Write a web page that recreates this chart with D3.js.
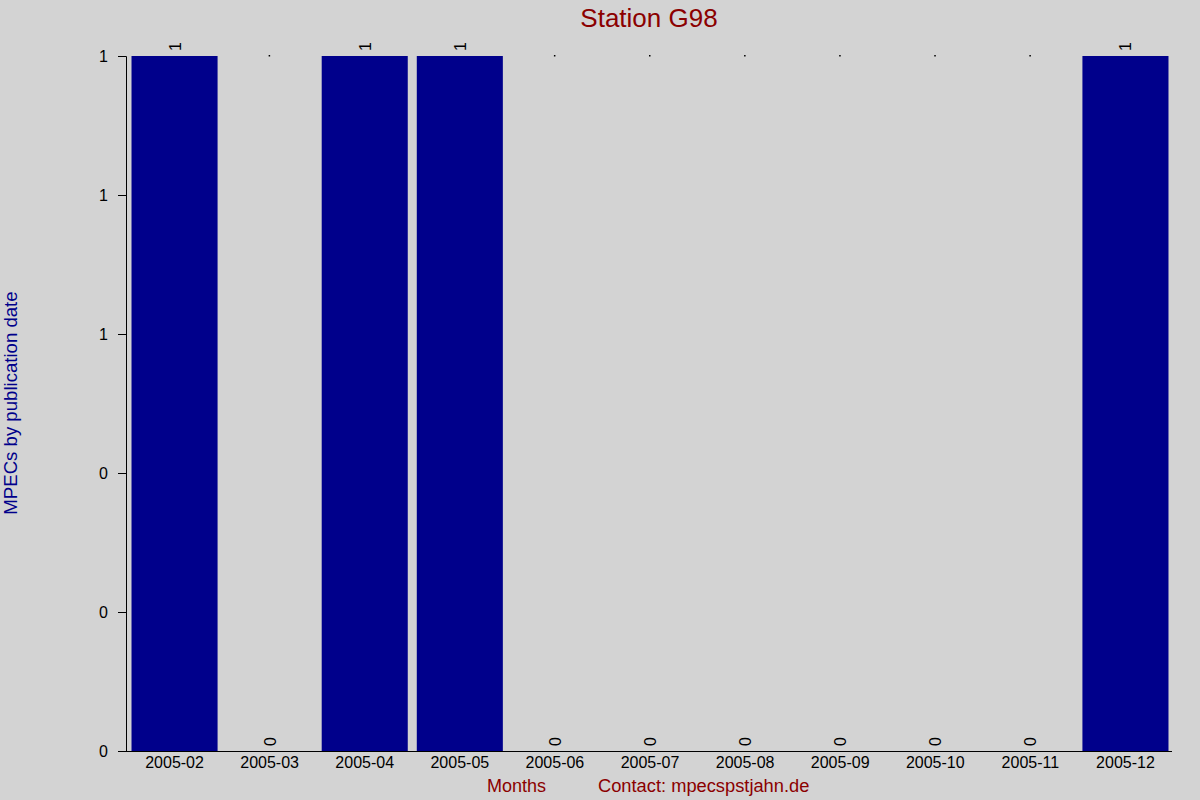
<!DOCTYPE html>
<html><head><meta charset="utf-8">
<script src="https://cdn.jsdelivr.net/npm/d3@7"></script>
<style>body{margin:0;background:#d3d3d3;}svg{display:block;font-family:"Liberation Sans",Arial,sans-serif;}</style>
</head><body>
<svg id="c" width="1200" height="800"></svg>
<script>
const months = ["2005-02","2005-03","2005-04","2005-05","2005-06","2005-07","2005-08","2005-09","2005-10","2005-11","2005-12"];
const counts = [1,0,1,1,0,0,0,0,0,0,1];
const yTicks = [0,0.2,0.4,0.6,0.8,1];
const titleText = "Station G98";
const yLabel = "MPECs by publication date";
const xLabel = "Months";
const contactText = "Contact: mpecspstjahn.de";

const svg = d3.select("#c");
svg.append("rect").attr("width",1200).attr("height",800).attr("fill","#d3d3d3");
const L=126,R=1172,T=56,B=751;
const x = d3.scaleBand().domain(months).range([L+1,R+1]).paddingInner(0.095).paddingOuter(0.0475);
const y = d3.scaleLinear().domain([0,1]).range([B,T]);

svg.append("g").selectAll("rect").data(months).join("rect")
  .attr("x",d=>x(d)).attr("width",x.bandwidth())
  .attr("y",(d,i)=>y(counts[i])).attr("height",(d,i)=>B-y(counts[i]))
  .attr("fill","#00008b");

svg.append("g").selectAll("rect").data(months.filter((d,i)=>counts[i]===0)).join("rect")
  .attr("x",d=>x(d)+x.bandwidth()/2-1).attr("y",y(1)-1).attr("width",1.5).attr("height",1.5).attr("fill","#000");

svg.append("g").selectAll("text").data(months).join("text")
  .attr("transform",(d,i)=>`translate(${x(d)+x.bandwidth()/2+6},${y(counts[i])-5}) rotate(-90)`)
  .style("font-size","16px").attr("fill","#000").attr("text-anchor","start")
  .text((d,i)=>counts[i]);

const ya = svg.append("g").attr("transform",`translate(${L},0)`)
  .call(d3.axisLeft(y).tickValues(yTicks).tickFormat(d3.format(".0f")).tickSizeOuter(0).tickSize(8).tickPadding(10));
ya.attr("font-size",null).attr("font-family",null);
ya.selectAll("text").style("font-size","16px").attr("fill","#000");
ya.selectAll("line,path").attr("stroke","#000");

const xa = svg.append("g").attr("transform",`translate(0,${B})`)
  .call(d3.axisBottom(x).tickSize(0).tickPadding(6));
xa.attr("font-size",null).attr("font-family",null);
xa.select("path").attr("d",`M${L-8},0.5H${R}`).attr("stroke","#000");
xa.selectAll("text").style("font-size","16px").attr("fill","#000");

svg.append("text").attr("x",649).attr("y",27).attr("text-anchor","middle")
  .style("font-size","26px").attr("fill","#8b0000").text(titleText);
svg.append("text").attr("transform","translate(17,403) rotate(-90)").attr("text-anchor","middle")
  .style("font-size","18.6px").attr("fill","#00008b").text(yLabel);
svg.append("text").attr("x",487).attr("y",792).style("font-size","18px").attr("fill","#8b0000").text(xLabel);
svg.append("text").attr("x",598).attr("y",792).style("font-size","18.3px").attr("fill","#8b0000").text(contactText);
</script>
</body></html>
